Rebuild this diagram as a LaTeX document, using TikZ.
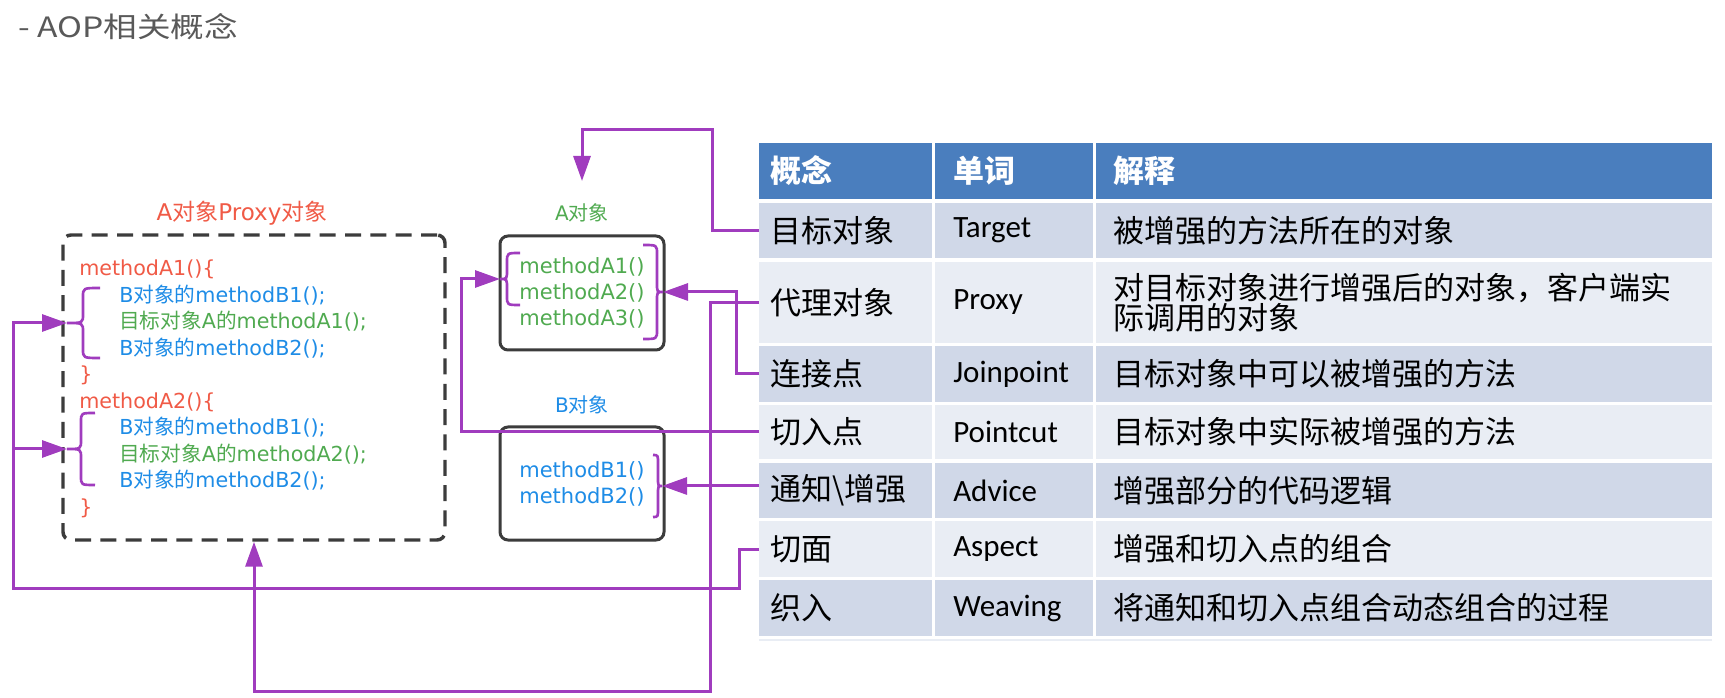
\documentclass[tikz,border=0pt]{standalone}
\usepackage{fontspec}
\setmainfont{DejaVu Sans}
\newfontfamily\cjk{Noto Sans CJK SC}
\newfontfamily\cjkwide[FakeStretch=1.2]{Noto Sans CJK SC}
\newfontfamily\calibri{Carlito}
\usepackage{tikz}
\usetikzlibrary{arrows.meta,positioning}
\usepackage{xcolor}

\definecolor{codered}{RGB}{240,90,70}
\definecolor{codeblue}{RGB}{30,140,230}
\definecolor{codegreen}{RGB}{80,170,80}
\definecolor{linkpurple}{RGB}{160,60,190}
\definecolor{headblue}{RGB}{74,126,190}
\definecolor{rowdark}{RGB}{208,216,232}
\definecolor{rowlight}{RGB}{233,237,244}
\definecolor{titlegray}{RGB}{89,89,89}
\definecolor{boxgray}{RGB}{60,60,60}

% brace: ends x, stem x, tip x, top y, bottom y
\newcommand{\curly}[5]{%
  \draw[wire, line width=2pt] (#1,#4) .. controls (#2,#4) .. (#2,#4+9)
    -- (#2,{(#4+#5)/2-9}) .. controls (#2,{(#4+#5)/2}) .. (#3,{(#4+#5)/2})
    .. controls (#2,{(#4+#5)/2}) .. (#2,{(#4+#5)/2+9})
    -- (#2,#5-9) .. controls (#2,#5) .. (#1,#5);
}

\begin{document}
\begin{tikzpicture}[x=0.75pt, y=-0.75pt,
    wire/.style={draw=linkpurple, line width=2.25pt},
    link/.style={wire, -{Triangle[length=18.75pt,width=12.75pt]}},
    objbox/.style={draw=boxgray, line width=2.25pt, rounded corners=6pt,
      minimum width=123pt, minimum height=85.5pt, align=center,
      font=\fontsize{15.75}{19.5}\selectfont},
    codeline/.style={anchor=base west, inner sep=0pt, font=\fontsize{15.5}{18}\selectfont},
    conceptcell/.style={anchor=west, inner xsep=8.25pt, inner ysep=0pt, text width=113.25pt,
      align=left, minimum height=#1, font=\cjk\fontsize{23.25}{22.5}\selectfont},
    wordcell/.style={anchor=west, inner xsep=13.5pt, inner ysep=0pt, text width=91.5pt,
      align=left, minimum height=#1, font=\calibri\fontsize{23.25}{22.5}\selectfont},
    desccell/.style={anchor=west, inner xsep=12.75pt, inner ysep=0pt, text width=436.5pt,
      align=left, minimum height=#1, font=\cjk\fontsize{23.25}{22.5}\selectfont}]
    \useasboundingbox (0,0) rectangle (1725,698);

    % Title
    \node[anchor=west, inner sep=0pt, text=titlegray, font=\cjkwide\fontsize{21}{25}\selectfont]
      (title) at (18,27) {- AOP相关概念};

    % Proxy object
    \node[text=codered, font=\fontsize{17.25}{20}\selectfont] (proxylabel) at (242,213)
      {A{\cjk 对象}Proxy{\cjk 对象}};
    \node[draw=boxgray, line width=2.6pt, dash pattern=on 12pt off 7pt, rounded corners=6pt,
      minimum width=286.5pt, minimum height=228.75pt] (proxybox) at (254,387.5) {};
    \foreach \i/\ind/\col/\txt in {
        0/0/codered/{methodA1()\{},
        1/1/codeblue/{B{\cjk 对象的}methodB1();},
        2/1/codegreen/{{\cjk 目标对象}A{\cjk 的}methodA1();},
        3/1/codeblue/{B{\cjk 对象的}methodB2();},
        4/0/codered/{\}},
        5/0/codered/{methodA2()\{},
        6/1/codeblue/{B{\cjk 对象的}methodB1();},
        7/1/codegreen/{{\cjk 目标对象}A{\cjk 的}methodA2();},
        8/1/codeblue/{B{\cjk 对象的}methodB2();},
        9/0/codered/{\}}}
      \node[codeline, text=\col] (code\i) at (79+40*\ind, 276+26.5*\i) {\txt};
    \curly{100}{83}{67}{288}{358}
    \curly{95}{81}{67}{413}{485}
    \coordinate (ctip1) at (67,323);
    \coordinate (ctip2) at (67,449);

    % A object
    \node[text=codegreen, font=\fontsize{15}{18}\selectfont] (alabel) at (582,213) {A{\cjk 对象}};
    \node[objbox, text=codegreen] (abox) at (582,293) {methodA1()\\methodA2()\\methodA3()};
    \curly{520}{507}{500}{253}{305}
    \curly{643}{657}{663}{245}{339}
    \coordinate (atipl) at (500,279);
    \coordinate (atipr) at (663,292);
    \coordinate (atop) at (582,181);

    % B object
    \node[text=codeblue, font=\fontsize{15}{18}\selectfont] (blabel) at (582,405) {B{\cjk 对象}};
    \node[objbox, text=codeblue, minimum height=84.75pt] (bbox) at (582,483.5) {methodB1()\\methodB2()};
    \curly{653}{658}{662}{455}{517}
    \coordinate (btip) at (662,486);

    % Table
    \node[conceptcell=42pt, fill=headblue, text=white, font=\cjk\bfseries\fontsize{23.25}{22.5}\selectfont]
      (h1) at (759,171) {概念};
    \node[desccell=42pt, text width=91.5pt, inner xsep=13.5pt, fill=headblue, text=white,
      font=\cjk\bfseries\fontsize{23.25}{22.5}\selectfont] (h2) at (935,171) {单词};
    \node[desccell=42pt, fill=headblue, text=white, font=\cjk\bfseries\fontsize{23.25}{22.5}\selectfont]
      (h3) at (1096,171) {解释};
    \foreach \rn/\ry/\rh/\rf/\cpt/\wrd/\dsc in {
        1/230.5/55/rowdark/目标对象/Target/被增强的方法所在的对象,
        2/302.5/81/rowlight/代理对象/Proxy/{对目标对象进行增强后的对象，客户端实\\际调用的对象},
        3/374/56/rowdark/连接点/Joinpoint/目标对象中可以被增强的方法,
        4/432/54/rowlight/切入点/Pointcut/目标对象中实际被增强的方法,
        5/490.5/55/rowdark/通知\textbackslash 增强/Advice/增强部分的代码逻辑,
        6/549/56/rowlight/切面/Aspect/增强和切入点的组合,
        7/608/56/rowdark/织入/Weaving/将通知和切入点组合动态组合的过程}
    {
      \node[conceptcell=\rh*0.75pt, fill=\rf] (r\rn) at (759,\ry) {\cpt};
      \node[wordcell=\rh*0.75pt, fill=\rf] (w\rn) at (935,\ry) {\wrd};
      \node[desccell=\rh*0.75pt, fill=\rf] (d\rn) at (1096,\ry) {\dsc};
    }
    \fill[rowlight] (759,639) rectangle (1712,641);

    % Connectors
    \draw[link] (r1.west) -| (712,130) -| (atop);
    \draw[link] (r2.west) -| (710,691) -| (proxybox.south);
    \draw[link] (r3.west) -| (736,292) -- (atipr);
    \draw[link] (r4.west) -| (461,279) -- (atipl);
    \draw[link] (r5.west |- btip) -- (btip);
    \draw[link] (r6.west) -| (739,588) -| (13,323) -- (ctip1);
    \coordinate (busx) at (13,0);
    \draw[link] (busx |- ctip2) -- (ctip2);
\end{tikzpicture}
\end{document}
